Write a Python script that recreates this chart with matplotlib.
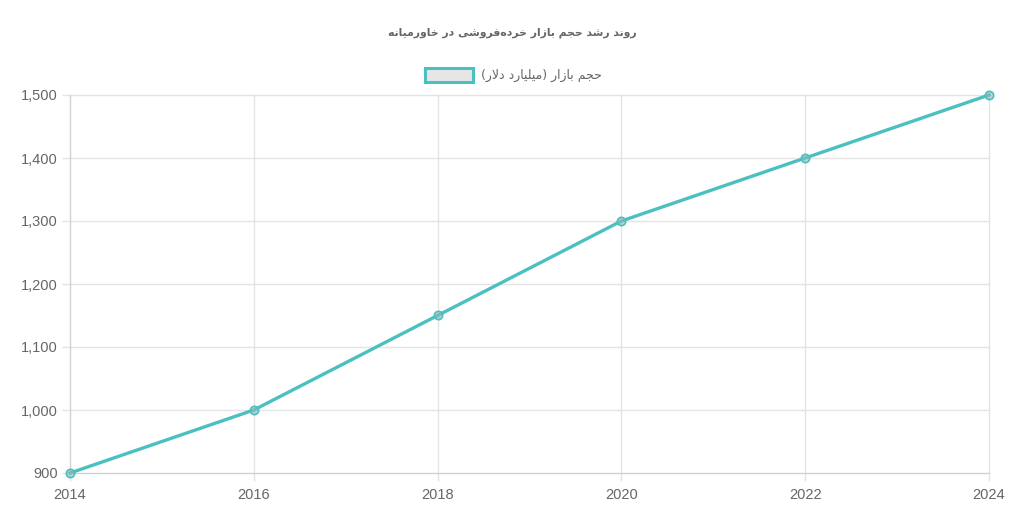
import matplotlib
matplotlib.use("Agg")
import matplotlib.pyplot as plt
from matplotlib.patches import Rectangle
from matplotlib.ticker import FuncFormatter

years = [2014, 2016, 2018, 2020, 2022, 2024]
market_size = [900, 1000, 1150, 1300, 1400, 1500]
title_text = "روند رشد حجم بازار خرده\u200cفروشی در خاورمیانه"
series_label = "حجم بازار (میلیارد دلار)"

TEAL = "#4bc0c0"
GRID = "#e4e4e4"
TXT = "#666666"

# minimal persian shaping: presentation forms + RTL reversal
FORMS = {
    "ا": ("\uFE8D", "\uFE8E", None, None),
    "ب": ("\uFE8F", "\uFE90", "\uFE91", "\uFE92"),
    "ج": ("\uFE9D", "\uFE9E", "\uFE9F", "\uFEA0"),
    "ح": ("\uFEA1", "\uFEA2", "\uFEA3", "\uFEA4"),
    "خ": ("\uFEA5", "\uFEA6", "\uFEA7", "\uFEA8"),
    "د": ("\uFEA9", "\uFEAA", None, None),
    "ر": ("\uFEAD", "\uFEAE", None, None),
    "ز": ("\uFEAF", "\uFEB0", None, None),
    "ش": ("\uFEB5", "\uFEB6", "\uFEB7", "\uFEB8"),
    "ف": ("\uFED1", "\uFED2", "\uFED3", "\uFED4"),
    "ل": ("\uFEDD", "\uFEDE", "\uFEDF", "\uFEE0"),
    "م": ("\uFEE1", "\uFEE2", "\uFEE3", "\uFEE4"),
    "ن": ("\uFEE5", "\uFEE6", "\uFEE7", "\uFEE8"),
    "ه": ("\uFEE9", "\uFEEA", "\uFEEB", "\uFEEC"),
    "و": ("\uFEED", "\uFEEE", None, None),
    "ی": ("\uFEEF", "\uFEF0", "\uFEF3", "\uFEF4"),
}


def dual(c):
    return c in FORMS and FORMS[c][2] is not None


def shape(s):
    out = []
    i = 0
    while i < len(s):
        c = s[i]
        prev = s[i - 1] if i > 0 else ""
        nxt = s[i + 1] if i + 1 < len(s) else ""
        if c == "\u200c":
            i += 1
            continue
        if c not in FORMS:
            out.append(c)
            i += 1
            continue
        join_prev = dual(prev)
        if c == "ل" and nxt == "ا":
            out.append("\uFEFC" if join_prev else "\uFEFB")
            i += 2
            continue
        join_next = dual(c) and nxt in FORMS
        iso, fin, ini, med = FORMS[c]
        if join_prev and join_next:
            out.append(med)
        elif join_prev:
            out.append(fin)
        elif join_next:
            out.append(ini)
        else:
            out.append(iso)
        i += 1
    vis = "".join(reversed(out))
    return vis.translate(str.maketrans("()", ")("))


fig = plt.figure(figsize=(10.24, 5.26), dpi=100)
ax = fig.add_axes([70 / 1024, 53 / 526, 919 / 1024, 378 / 526])

ax.plot(years, market_size, color=TEAL, lw=2.4, solid_joinstyle="round",
        marker="o", ms=6, mfc=(0.55, 0.72, 0.72, 0.6),
        mec=TEAL, mew=1.2, clip_on=False, zorder=3)

ax.set_xlim(2014, 2024)
ax.set_ylim(900, 1500)
ax.set_xticks(years)
ax.set_yticks(range(900, 1501, 100))
ax.yaxis.set_major_formatter(FuncFormatter(lambda v, p: f"{int(v):,}"))
ax.grid(True, color=GRID, lw=1)
for gl in ax.get_xgridlines() + ax.get_ygridlines():
    gl.set_clip_on(False)
ax.set_axisbelow(True)
for side in ["top", "right"]:
    ax.spines[side].set_visible(False)
for side in ["left", "bottom"]:
    ax.spines[side].set_color("#d0d0d0")
ax.tick_params(length=6, width=1, color=GRID, labelcolor=TXT, labelsize=10.5, pad=3)
ax.tick_params(axis="x", pad=4.5)
for lab in ax.get_xticklabels() + ax.get_yticklabels():
    lab.set_fontfamily("Liberation Sans")

fig.text(0.5, 1 - 33 / 526, shape(title_text), ha="center", va="center",
         fontsize=7.8, fontweight="bold", color=TXT, family="DejaVu Sans")

fig.patches.append(Rectangle((425 / 1024, 1 - 82 / 526), 48 / 1024, 14 / 526,
                             transform=fig.transFigure, facecolor="#e6e6e6",
                             edgecolor=TEAL, lw=2.2))
fig.text(481 / 1024, 1 - 75 / 526, shape(series_label), ha="left", va="center",
         fontsize=9, color=TXT, family="DejaVu Sans")

fig.savefig("out.png", dpi=100, facecolor="white")
